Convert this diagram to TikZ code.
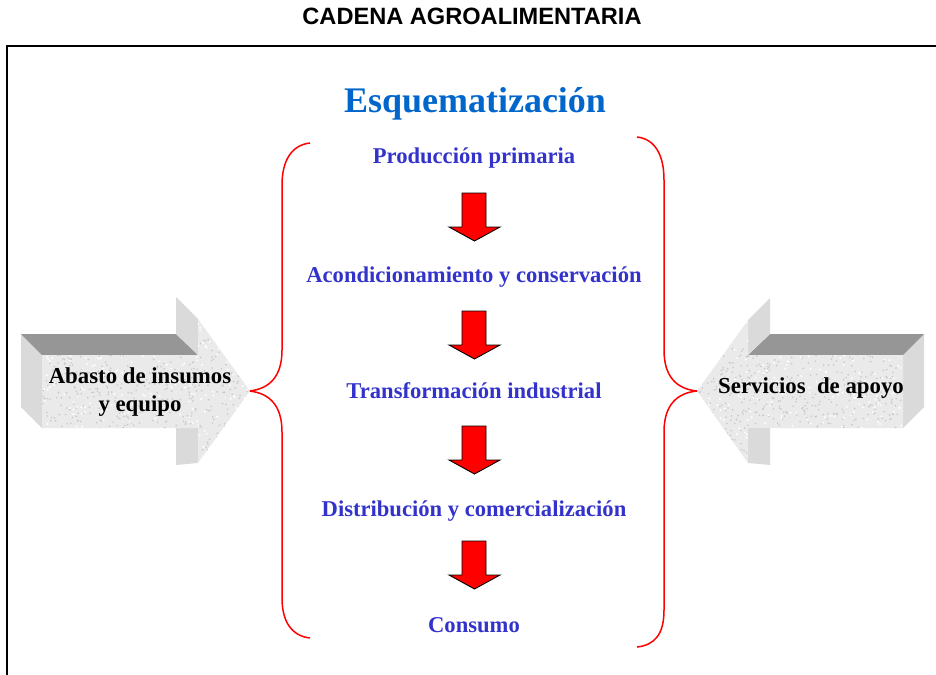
\documentclass[tikz,border=0pt]{standalone}
\usepackage{fontspec}
\setmainfont{Liberation Serif}
\newfontfamily\titlefont{Liberation Sans}
\definecolor{stepblue}{RGB}{51,51,204}
\definecolor{headblue}{RGB}{0,102,204}
\definecolor{frontgray}{RGB}{234,234,234}
\definecolor{specklegray}{RGB}{200,200,200}
\definecolor{sidegray}{RGB}{218,218,218}
\definecolor{topgray}{RGB}{150,150,150}
\definecolor{bracered}{RGB}{255,0,0}
\tikzset{
  steptext/.style={font=\fontsize{22.6}{24}\selectfont\bfseries, text=stepblue, anchor=base, inner sep=0pt},
  sidetext/.style={font=\fontsize{22.8}{27.5}\selectfont\bfseries, text=black, align=center, inner sep=0pt},
  brace/.style={draw=bracered, line width=1.5pt},
  redarrow/.style={draw=black, fill=red, line width=0.9pt, line join=miter},
}
\begin{document}
\begin{tikzpicture}[x=1pt,y=-1pt]
\useasboundingbox (0,0) rectangle (936,674);
\clip (0,0) rectangle (936,674);
% title
\node[font=\titlefont\fontsize{23.6}{26}\selectfont\bfseries, anchor=base, inner sep=0pt] (title) at (472,25) {CADENA AGROALIMENTARIA};
% frame
\draw[line width=2pt] (7,46) rectangle (950,700);
% heading
\node[font=\fontsize{36}{40}\selectfont\bfseries, text=headblue, anchor=base, inner sep=0pt] (esq) at (475,113) {Esquematización};
% steps
\node[steptext] (s1) at (474,163) {Producción primaria};
\node[steptext] (s2) at (474,282) {Acondicionamiento y conservación};
\node[steptext] (s3) at (474,398) {Transformación industrial};
\node[steptext] (s4) at (474,516) {Distribución y comercialización};
\node[steptext] (s5) at (474,632) {Consumo};
% red arrows
\foreach \t in {193,311,426,541}{
  \draw[redarrow] (462,\t) -- (486,\t) -- (486,\t+34) -- (500,\t+34) -- (474.5,\t+48) -- (449,\t+34) -- (462,\t+34) -- cycle;
}
% braces
\draw[brace] (310,143) .. controls (292,145) and (282,160) .. (282,185) -- (282,350)
  .. controls (282,376) and (270,389) .. (249,391)
  .. controls (270,393) and (282,406) .. (282,432) -- (282,598)
  .. controls (282,622) and (292,636) .. (310,638);
\draw[brace] (637,137) .. controls (655,139) and (664,155) .. (664,180) -- (664,350)
  .. controls (664,376) and (676,389) .. (697,391)
  .. controls (676,393) and (664,406) .. (664,432) -- (664,610)
  .. controls (664,634) and (655,645) .. (637,647);
\pgfmathsetseed{7}
% left 3D arrow
\fill[sidegray] (21,334) -- (42,355) -- (42,428) -- (21,407) -- cycle;
\fill[topgray] (21,334) -- (176,334) -- (198,355) -- (42,355) -- cycle;
\fill[sidegray] (176,297) -- (198,319) -- (198,355) -- (176,334) -- cycle;
\fill[sidegray] (176,428) -- (198,428) -- (198,463) -- (176,465) -- cycle;
\begin{scope}
\path[clip] (42,355) -- (198,355) -- (198,319) -- (250,391) -- (198,463) -- (198,428) -- (42,428) -- cycle;
\fill[frontgray] (40,315) rectangle (252,465);
\foreach \i in {1,...,700}{
  \fill[specklegray] (42+208*rnd,319+144*rnd) circle (0.9);
}
\foreach \i in {1,...,300}{
  \fill[white] (42+208*rnd,319+144*rnd) circle (1.1);
}
\end{scope}
\node[sidetext] (abasto) at (140,392) {Abasto de insumos\\y equipo};
% right 3D arrow
\fill[sidegray] (903,355) -- (924,334) -- (924,407) -- (903,428) -- cycle;
\fill[topgray] (903,355) -- (924,334) -- (770,334) -- (748,355) -- cycle;
\fill[sidegray] (770,298) -- (748,320) -- (748,355) -- (770,334) -- cycle;
\fill[sidegray] (748,428) -- (770,428) -- (770,465) -- (748,463) -- cycle;
\begin{scope}
\path[clip] (903,355) -- (748,355) -- (748,320) -- (697,391) -- (748,463) -- (748,428) -- (903,428) -- cycle;
\fill[frontgray] (695,315) rectangle (905,465);
\foreach \i in {1,...,700}{
  \fill[specklegray] (697+206*rnd,320+144*rnd) circle (0.9);
}
\foreach \i in {1,...,300}{
  \fill[white] (697+206*rnd,320+144*rnd) circle (1.1);
}
\end{scope}
\node[sidetext, anchor=base] (serv) at (811,393) {Servicios\ \ de apoyo};
\end{tikzpicture}
\end{document}
